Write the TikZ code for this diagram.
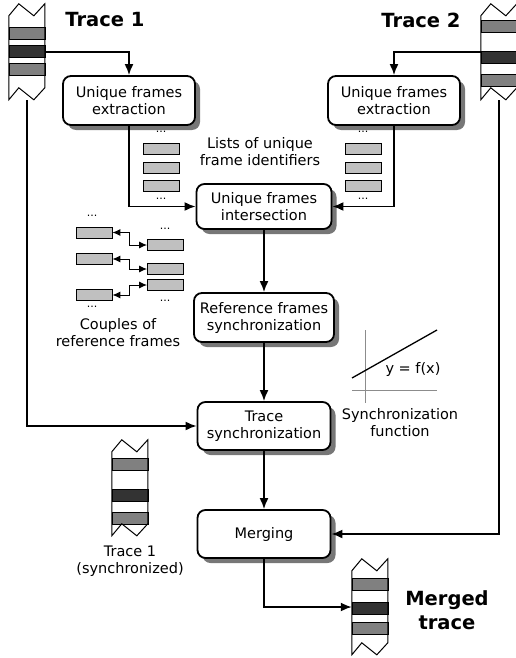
\documentclass[tikz,border=0pt]{standalone}
\usepackage{fontspec}
\setmainfont{DejaVu Sans}
\usetikzlibrary{arrows.meta}

\definecolor{bandgray}{HTML}{808080}
\definecolor{banddark}{HTML}{333333}
\definecolor{listgray}{HTML}{C0C0C0}
\definecolor{axisgray}{HTML}{8C8C8C}
\definecolor{shadowgray}{HTML}{777777}

\tikzset{
  every node/.style={font=\fontsize{14.5}{17}\selectfont},
  stepbox/.style={draw, line width=1.8pt, rounded corners=8pt, fill=white, align=center,
    minimum width=133pt, minimum height=48pt, inner sep=2pt},
  boxshadow/.style={fill=shadowgray, rounded corners=8pt},
  flow/.style={line width=1.8pt, -{Latex[length=11pt,width=9pt]}},
  pair/.style={line width=1pt, {Latex[length=8pt,width=7pt]}-{Latex[length=8pt,width=7pt]}},
  strip/.style={minimum width=36pt, minimum height=96pt, inner sep=0pt},
  idbox/.style={draw, fill=listgray, line width=0.8pt, minimum width=36pt, minimum height=11pt, inner sep=0pt},
  dots/.style={font=\fontsize{11}{11}\selectfont, inner sep=0pt},
  txt/.style={align=center, inner sep=0pt},
  title/.style={align=center, inner sep=0pt, font=\fontsize{19.5}{24}\selectfont\bfseries},
}

% strip of a trace: name, centre, tops of the three bands
\newcommand{\tracestrip}[5]{%
  \node[strip] (#1) at (#2) {};
  \begin{scope}[shift={(#1.north west)}]
    \fill[white] (0,12) -- (10,0) -- (25,12) -- (36,0) -- (36,84) -- (25,96) -- (10,84) -- (0,96) -- cycle;
    \filldraw[fill=bandgray, line width=0.6pt] (0,#3) rectangle ++(36,12);
    \filldraw[fill=banddark, line width=0.6pt] (0,#4) rectangle ++(36,12);
    \filldraw[fill=bandgray, line width=0.6pt] (0,#5) rectangle ++(36,12);
    \draw[line width=1pt] (0,12) -- (10,0) -- (25,12) -- (36,0) -- (36,84) -- (25,96) -- (10,84) -- (0,96) -- cycle;
  \end{scope}
}

% step box with its shadow below: name, centre, width, height, text
\newcommand{\stepnode}[5]{%
  \fill[boxshadow] ($(#2)+(-#3/2+5,-#4/2+5)$) rectangle ($(#2)+(#3/2+5,#4/2+5)$);
  \node[stepbox, minimum width=#3pt, minimum height=#4pt] (#1) at (#2) {#5};
}

\usetikzlibrary{calc}

\begin{document}
\begin{tikzpicture}[x=1pt, y=-1pt]
  \useasboundingbox (0,0) rectangle (515,658);

  % traces
  \tracestrip{trace1}{27,52}{24}{42}{60}
  \tracestrip{trace2}{499,52}{17}{48}{71}
  \tracestrip{synctrace}{130,488}{18}{49}{72}
  \tracestrip{merged}{370,607}{19}{43}{63}
  \node[title] (t1title) at (105,20) {Trace 1};
  \node[title] (t2title) at (421,20) {Trace 2};
  \node[title] (mtitle) at (447,610) {Merged\\trace};
  \node[txt] (synctxt) at (130,561) {Trace 1\\(synchronized)};

  % processing steps
  \stepnode{ext1}{129,100.5}{132}{49}{Unique frames\\extraction}
  \stepnode{ext2}{394,100.5}{132}{49}{Unique frames\\extraction}
  \stepnode{inter}{264,206.5}{135}{45}{Unique frames\\intersection}
  \stepnode{refsync}{264,317.5}{140}{49}{Reference frames\\synchronization}
  \stepnode{tsync}{264,426}{133}{48}{Trace\\synchronization}
  \stepnode{merge}{264,534}{133}{48}{Merging}

  % lists of identifiers
  \foreach \y [count=\i] in {148.5,167.5,186} {
    \node[idbox] (lista\i) at (161,\y) {};
    \node[idbox] (listb\i) at (363,\y) {};
  }
  \node[dots] (dotsa1) at (161,132) {...};
  \node[dots] (dotsa2) at (161,199) {...};
  \node[dots] (dotsb1) at (363,132) {...};
  \node[dots] (dotsb2) at (363,199) {...};
  \node[txt] (listtxt) at (260,152) {Lists of unique\\frame identifiers};

  % couples of reference frames
  \node[idbox] (ca1) at (94,232.5) {};
  \node[idbox] (ca2) at (94,259) {};
  \node[idbox] (ca3) at (94,295) {};
  \node[idbox] (cb1) at (165.5,245) {};
  \node[idbox] (cb2) at (165.5,269) {};
  \node[idbox] (cb3) at (165.5,285) {};
  \draw[pair] (ca1.east) -- ++(17,0) |- (cb1.west);
  \draw[pair] (ca2.east) -- ++(17,0) |- (cb2.west);
  \draw[pair] (ca3.east) -- ++(17,0) |- (cb3.west);
  \node[dots] (dotsc1) at (92,216) {...};
  \node[dots] (dotsc2) at (165,229) {...};
  \node[dots] (dotsc3) at (92,307) {...};
  \node[dots] (dotsc4) at (165,301) {...};
  \node[txt] (coupletxt) at (118,333) {Couples of\\reference frames};

  % synchronization function
  \draw[axisgray, line width=1pt] (365,330) -- (365,403);
  \draw[axisgray, line width=1pt] (352,390) -- (437,390);
  \draw[line width=1.3pt] (352,378) -- (437,330);
  \node[txt] (fx) at (413,369) {y = f(x)};
  \node[txt] (functxt) at (400,423) {Synchronization\\function};

  % connectors
  \draw[flow] (trace1.east) -| (ext1.north);
  \draw[flow] (trace2.west) -| (ext2.north);
  \draw[flow] (ext1.south) |- (inter.west);
  \draw[flow] (ext2.south) |- (inter.east);
  \draw[flow] (inter.south) -- (refsync.north);
  \draw[flow] (refsync.south) -- (tsync.north);
  \draw[flow] (tsync.south) -- (merge.north);
  \draw[flow] (trace1.south) |- (tsync.west);
  \draw[flow] (trace2.south) |- (merge.east);
  \draw[flow] (merge.south) |- (merged.west);
\end{tikzpicture}
\end{document}
